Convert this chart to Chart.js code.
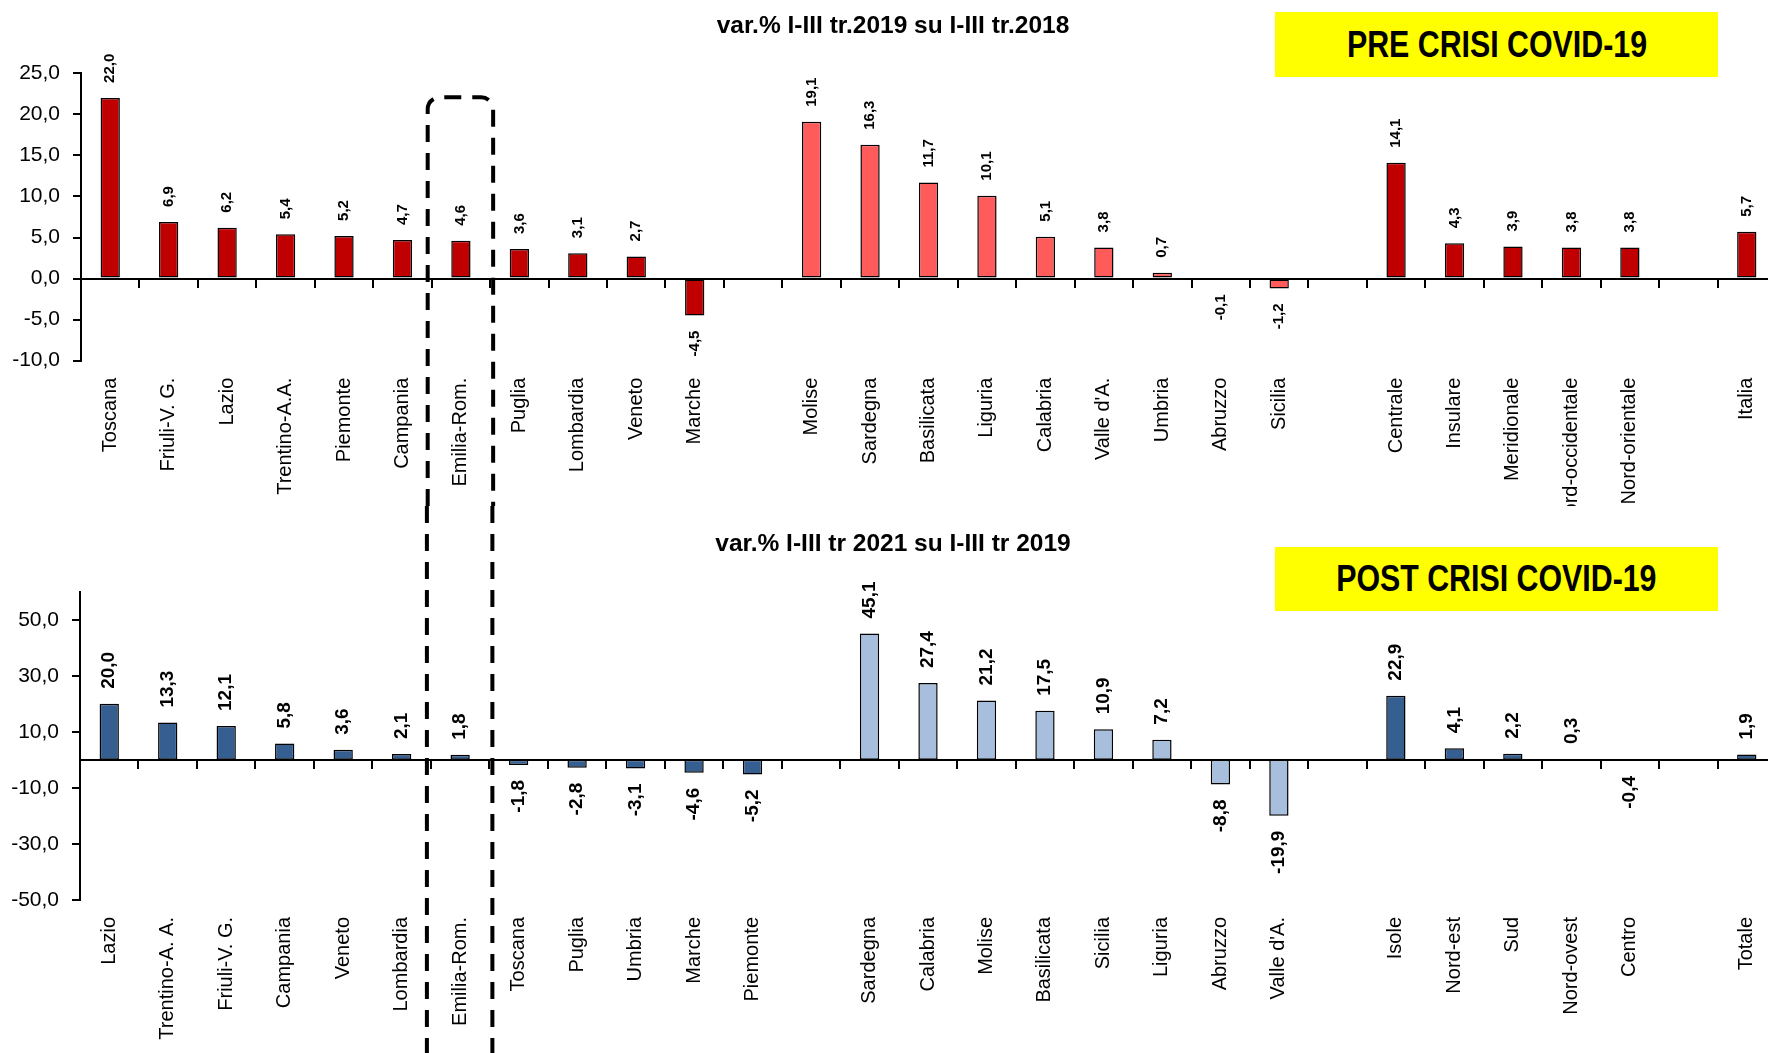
<!DOCTYPE html>
<html>
<head>
<meta charset="utf-8">
<script src="https://cdn.jsdelivr.net/npm/chart.js@4.4.1/dist/chart.umd.min.js"></script>
<style>
  body { margin: 0; background: #fff; overflow: hidden; }
  #page { position: relative; width: 1768px; height: 1053px; overflow: hidden; }
  .box { position: absolute; left: 10px; }
  .tag {
    position: absolute; left: 1275px; width: 443px;
    background: #ffff00; color: #000;
    font: bold 37px "Liberation Sans", Arial, sans-serif;
    display: flex; align-items: center; justify-content: center;
    white-space: nowrap;
  }
  .tag span { display: inline-block; transform: scaleX(0.82); }
</style>
</head>
<body>
<div id="page">
  <div class="box" style="top:0"><canvas id="preChart" width="1766" height="506"></canvas></div>
  <div class="box" style="top:506px"><canvas id="postChart" width="1766" height="547"></canvas></div>
  <div class="tag" style="top:12px;height:65px"><span>PRE CRISI COVID-19</span></div>
  <div class="tag" style="top:547px;height:64px"><span>POST CRISI COVID-19</span></div>
</div>
<script>
// pre crisi: var.% I-III tr.2019 su I-III tr.2018 ('' = gap between groups)
const preLabels = ['Toscana', 'Friuli-V. G.', 'Lazio', 'Trentino-A.A.', 'Piemonte', 'Campania', 'Emilia-Rom.',
  'Puglia', 'Lombardia', 'Veneto', 'Marche', '',
  'Molise', 'Sardegna', 'Basilicata', 'Liguria', 'Calabria', "Valle d'A.", 'Umbria', 'Abruzzo', 'Sicilia', '',
  'Centrale', 'Insulare', 'Meridionale', 'Nord-occidentale', 'Nord-orientale', '', 'Italia']
const preValues = [22.0, 6.9, 6.2, 5.4, 5.2, 4.7, 4.6, 3.6, 3.1, 2.7, -4.5, null,
  19.1, 16.3, 11.7, 10.1, 5.1, 3.8, 0.7, -0.1, -1.2, null,
  14.1, 4.3, 3.9, 3.8, 3.8, null, 5.7]
const preTicks = [-10, -5, 0, 5, 10, 15, 20, 25]

// post crisi: var.% I-III tr 2021 su I-III tr 2019
const postLabels = ['Lazio', 'Trentino-A. A.', 'Friuli-V. G.', 'Campania', 'Veneto', 'Lombardia', 'Emilia-Rom.',
  'Toscana', 'Puglia', 'Umbria', 'Marche', 'Piemonte', '',
  'Sardegna', 'Calabria', 'Molise', 'Basilicata', 'Sicilia', 'Liguria', 'Abruzzo', "Valle d'A.", '',
  'Isole', 'Nord-est', 'Sud', 'Nord-ovest', 'Centro', '', 'Totale']
const postValues = [20.0, 13.3, 12.1, 5.8, 3.6, 2.1, 1.8, -1.8, -2.8, -3.1, -4.6, -5.2, null,
  45.1, 27.4, 21.2, 17.5, 10.9, 7.2, -8.8, -19.9, null,
  22.9, 4.1, 2.2, 0.3, -0.4, null, 1.9]
const postTicks = [-50, -30, -10, 10, 30, 50]

Chart.defaults.font.family = '"Liberation Sans", Arial, sans-serif'
Chart.defaults.color = '#000'
Chart.defaults.animation = false

const fmt = (v) => v.toFixed(1).replace('.', ',')

// which block of regions a bar belongs to (blocks are split by empty labels)
function blockOf(labels, i) {
  let b = 0
  for (let k = 0; k < i; k++) if (labels[k] === '') b++
  return b
}

const valueLabels = {
  id: 'valueLabels',
  afterDatasetsDraw(chart, args, opts) {
    const ctx = chart.ctx
    const values = chart.data.datasets[0].data
    ctx.save()
    ctx.font = 'bold ' + opts.size + 'px ' + Chart.defaults.font.family
    ctx.fillStyle = '#000'
    ctx.textBaseline = 'middle'
    chart.getDatasetMeta(0).data.forEach((bar, i) => {
      const v = values[i]
      if (v === null) return
      ctx.save()
      ctx.translate(bar.x, v >= 0 ? bar.y - opts.gap : bar.y + opts.gap)
      ctx.rotate(-Math.PI / 2)
      ctx.textAlign = v >= 0 ? 'left' : 'right'
      ctx.fillText(fmt(v), 0, 0)
      ctx.restore()
    })
    ctx.restore()
  }
}

// dashed frame round Emilia-Romagna, runs through both charts
const dashedBox = {
  id: 'dashedBox',
  afterDraw(chart, args, opts) {
    const x = chart.scales.x
    const i = chart.data.labels.indexOf('Emilia-Rom.')
    const half = (x.getPixelForValue(1) - x.getPixelForValue(0)) / 2
    const l = x.getPixelForValue(i) - half - 4
    const r = x.getPixelForValue(i) + half + 3
    const h = chart.height
    const rad = 12
    const ctx = chart.ctx
    ctx.save()
    ctx.strokeStyle = '#000'
    ctx.lineWidth = 4
    ctx.setLineDash([17, 11])
    ctx.beginPath()
    if (opts.top) {
      const t = chart.chartArea.top + 24
      ctx.moveTo(l, h)
      ctx.lineTo(l, t + rad)
      ctx.arcTo(l, t, l + rad, t, rad)
      ctx.lineTo(r - rad, t)
      ctx.arcTo(r, t, r, t + rad, rad)
      ctx.lineTo(r, h)
    } else {
      ctx.moveTo(l, 0)
      ctx.lineTo(l, h)
      ctx.moveTo(r, 0)
      ctx.lineTo(r, h)
    }
    ctx.stroke()
    ctx.restore()
  }
}

function makeChart(id, labels, values, ticks, min, max, colors, cfg) {
  return new Chart(document.getElementById(id), {
    type: 'bar',
    data: {
      labels: labels,
      datasets: [{
        data: values,
        backgroundColor: (c) => blockOf(labels, c.dataIndex) === 1 ? colors[1] : colors[0],
        borderColor: '#000',
        borderWidth: 1.5,
        borderSkipped: false,
        categoryPercentage: 1,
        barPercentage: 0.33,
      }],
    },
    options: {
      responsive: false,
      layout: { padding: 0 },
      plugins: {
        legend: { display: false },
        tooltip: { enabled: false },
        title: {
          display: true,
          text: cfg.title,
          color: '#000',
          font: { size: 24.5, weight: 'bold' },
          padding: cfg.titlePad,
        },
        valueLabels: { size: cfg.labelSize, gap: 15 },
        dashedBox: { top: cfg.top },
      },
      scales: {
        x: {
          type: 'category',
          position: { y: 0 },
          offset: true,
          grid: { offset: true, drawOnChartArea: false, drawTicks: true, tickLength: 8, color: '#000', lineWidth: 2 },
          border: { display: true, color: '#000', width: 2 },
          ticks: { display: false },
        },
        x2: {
          type: 'category',
          position: 'bottom',
          offset: true,
          grid: { display: false, drawTicks: false },
          border: { display: false },
          ticks: { autoSkip: false, minRotation: 90, maxRotation: 90, padding: 17, font: { size: 20 } },
          afterFit: (s) => {
            s.height = cfg.xHeight
            s.paddingLeft = 0
            s.paddingRight = 0
          },
        },
        y: {
          min: min,
          max: max,
          afterBuildTicks: (s) => { s.ticks = ticks.map((v) => ({ value: v })) },
          grid: { drawOnChartArea: false, drawTicks: true, tickLength: 8, color: '#000', lineWidth: 2 },
          border: { display: true, color: '#000', width: 2 },
          ticks: { padding: 13, font: { size: 21 }, callback: (v) => fmt(v) },
          afterFit: (s) => { s.width = cfg.yWidth },
        },
      },
    },
    plugins: [valueLabels, dashedBox],
  })
}

makeChart('preChart', preLabels, preValues, preTicks, -10, 25, ['#c00000', '#ff5b5b'], {
  title: 'var.% I-III tr.2019 su I-III tr.2018',
  titlePad: { top: 12, bottom: 31.9 },
  xHeight: 145.3,
  yWidth: 71,
  labelSize: 15,
  top: true,
})

makeChart('postChart', postLabels, postValues, postTicks, -50, 60, ['#355e91', '#a7bfdd'], {
  title: 'var.% I-III tr 2021 su I-III tr 2019',
  titlePad: { top: 23.3, bottom: 33 },
  xHeight: 153,
  yWidth: 70,
  labelSize: 19,
  top: false,
})
</script>
</body>
</html>
